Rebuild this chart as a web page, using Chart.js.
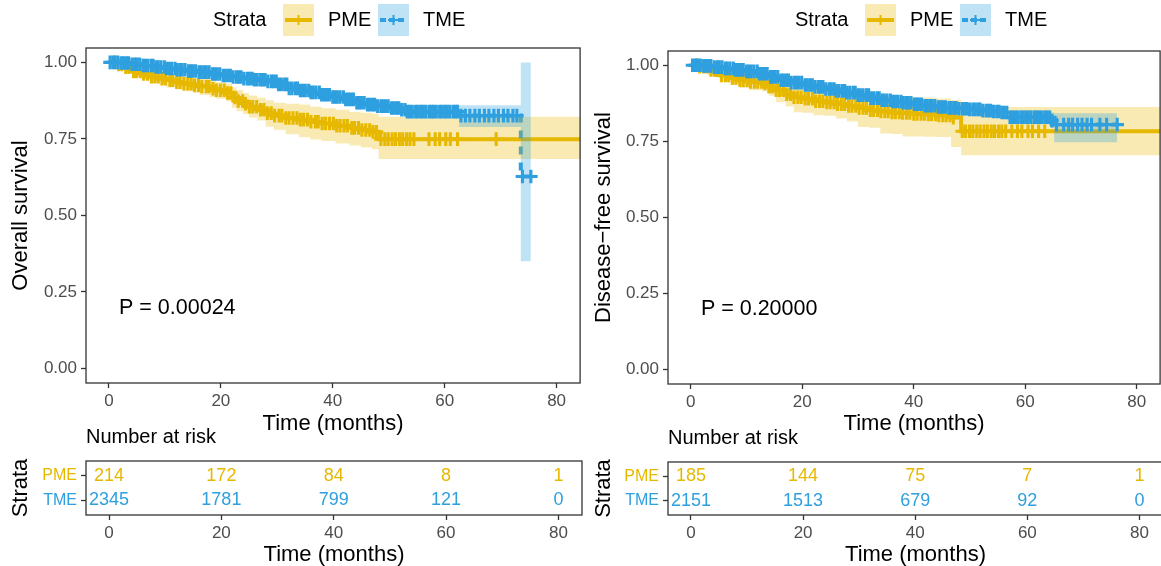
<!DOCTYPE html>
<html>
<head>
<meta charset="utf-8">
<script src="https://cdn.jsdelivr.net/npm/chart.js@4.4.1/dist/chart.umd.min.js"></script>
<style>
  html, body { margin: 0; padding: 0; background: #fff; overflow: hidden; width: 1161px; height: 566px; }
  canvas { position: absolute; }
</style>
</head>
<body>
<canvas id="mainL" width="590" height="440" style="left:0;top:0"></canvas>
<canvas id="mainR" width="590" height="440" style="left:580px;top:0"></canvas>
<canvas id="riskL" width="590" height="150" style="left:0;top:420px"></canvas>
<canvas id="riskR" width="590" height="150" style="left:580px;top:420px"></canvas>
<script>
// ---------- shared ----------
const strata = ['PME', 'TME'];
const xTicks = [0, 20, 40, 60, 80];
const yTicks = [0, 0.25, 0.5, 0.75, 1];
const riskTimes = [0, 20, 40, 60, 80];

// ---------- left: overall survival ----------
const osPmeTime  = [0, 1.5, 3, 4.3, 6, 7.3, 9, 10.3, 12, 13.2, 15, 16.2, 18, 19.2, 21, 22, 22.8, 24, 25, 26.5, 28, 29.5, 31.6, 34, 36, 38, 40.5, 43, 45, 47, 48.2, 86];
const osPmeSurv  = [1, 0.993, 0.984, 0.97, 0.962, 0.953, 0.947, 0.942, 0.935, 0.93, 0.925, 0.921, 0.914, 0.909, 0.9, 0.885, 0.874, 0.865, 0.855, 0.845, 0.834, 0.826, 0.818, 0.813, 0.806, 0.8, 0.793, 0.786, 0.779, 0.773, 0.749, 0.749];
const osPmeUpper = [1, 1, 0.997, 0.985, 0.978, 0.97, 0.966, 0.962, 0.956, 0.951, 0.948, 0.945, 0.94, 0.935, 0.93, 0.918, 0.91, 0.9, 0.892, 0.884, 0.876, 0.868, 0.865, 0.862, 0.855, 0.85, 0.845, 0.838, 0.835, 0.832, 0.822, 0.822];
const osPmeLower = [1, 0.983, 0.968, 0.951, 0.943, 0.933, 0.925, 0.918, 0.911, 0.906, 0.9, 0.893, 0.886, 0.881, 0.872, 0.852, 0.84, 0.831, 0.82, 0.81, 0.79, 0.78, 0.765, 0.755, 0.748, 0.743, 0.735, 0.728, 0.722, 0.716, 0.684, 0.684];
const osPmeCensor = [1.0, 1.7, 2.3, 3.0, 3.6, 4.4, 4.9, 5.6, 6.2, 6.9, 7.6, 8.2, 8.8, 9.5, 10.1, 10.9, 11.4, 12.1, 12.7, 13.4, 14.1, 14.7, 15.3, 16.0, 16.6, 17.4, 17.9, 18.6, 19.2, 19.9, 20.6, 21.2, 21.8, 22.5, 23.1, 23.9, 24.4, 25.1, 25.7, 26.4, 27.1, 27.7, 28.3, 29.0, 29.6, 30.4, 30.9, 31.6, 32.2, 32.9, 33.6, 34.2, 34.8, 35.5, 36.1, 36.9, 37.4, 38.1, 38.7, 39.4, 40.1, 40.7, 41.3, 42.0, 42.6, 43.4, 43.9, 44.6, 45.2, 45.9, 46.6, 47.2, 47.8, 48.6, 49.3, 49.9, 50.6, 51.2, 51.9, 52.5, 53.2, 53.8, 54.5, 57.2, 58.3, 59.1, 60.2, 61.0, 62.3, 69.2];

const osTmeTime  = [0, 2, 4, 6, 8, 10, 12, 14, 16, 18, 20, 22, 24, 26, 28, 30, 32, 34, 36, 38, 40, 42, 44, 46, 48, 50, 52, 53.2, 62.6, 73.6, 75.4];
const osTmeSurv  = [1, 0.998, 0.994, 0.99, 0.985, 0.98, 0.976, 0.972, 0.968, 0.962, 0.957, 0.952, 0.947, 0.943, 0.938, 0.928, 0.915, 0.908, 0.902, 0.894, 0.887, 0.879, 0.868, 0.862, 0.857, 0.851, 0.845, 0.839, 0.826, 0.627, 0.627];
const osTmeUpper = [1, 1, 0.997, 0.994, 0.99, 0.986, 0.982, 0.979, 0.975, 0.97, 0.966, 0.961, 0.957, 0.953, 0.949, 0.94, 0.928, 0.921, 0.916, 0.909, 0.902, 0.895, 0.885, 0.879, 0.875, 0.869, 0.864, 0.858, 0.86, 1, 1];
const osTmeLower = [1, 0.996, 0.991, 0.986, 0.98, 0.975, 0.97, 0.965, 0.961, 0.955, 0.948, 0.943, 0.937, 0.933, 0.927, 0.916, 0.902, 0.895, 0.888, 0.879, 0.872, 0.863, 0.851, 0.845, 0.839, 0.833, 0.826, 0.818, 0.789, 0.35, 0.35];
const osTmeCensor = [0.2, 0.7, 1.1, 1.6, 2.2, 2.6, 3.1, 3.5, 4.1, 4.6, 5.0, 5.5, 6.1, 6.4, 6.9, 7.5, 7.9, 8.4, 8.8, 9.3, 9.9, 10.3, 10.7, 11.2, 11.8, 12.2, 12.7, 13.1, 13.6, 14.2, 14.6, 15.0, 15.5, 16.1, 16.5, 17.0, 17.4, 17.9, 18.5, 18.9, 19.3, 19.8, 20.4, 20.8, 21.3, 21.7, 22.2, 22.8, 23.2, 23.6, 24.1, 24.7, 25.1, 25.6, 26.0, 26.5, 27.1, 27.5, 27.9, 28.4, 29.0, 29.4, 29.9, 30.3, 30.8, 31.4, 31.8, 32.2, 32.7, 33.3, 33.7, 34.2, 34.6, 35.1, 35.7, 36.1, 36.5, 37.0, 37.6, 38.0, 38.5, 38.9, 39.4, 40.0, 40.4, 40.8, 41.3, 41.9, 42.3, 42.8, 43.2, 43.7, 44.3, 44.7, 45.1, 45.6, 46.2, 46.6, 47.1, 47.5, 48.0, 48.6, 49.0, 49.4, 49.9, 50.5, 50.9, 51.4, 51.8, 52.3, 52.9, 53.3, 53.7, 54.2, 54.8, 55.2, 55.7, 56.1, 56.6, 57.2, 57.6, 58.0, 58.5, 59.1, 59.5, 60.0, 60.4, 60.9, 61.5, 61.9, 62.3, 62.9, 63.7, 64.5, 65.4, 66.2, 67.1, 67.9, 68.8, 69.6, 70.5, 71.3, 72.2, 72.9, 73.9, 75.4];

const osRiskPme = [214, 172, 84, 8, 1];
const osRiskTme = [2345, 1781, 799, 121, 0];
const osPval = 'P = 0.00024';

// ---------- right: disease-free survival ----------
const dfsPmeTime  = [0, 1.5, 3, 5.2, 7, 8.7, 10.5, 12.8, 14, 15.3, 17, 18.5, 20, 22, 24, 26, 28, 30, 32, 34, 36, 38, 40, 42, 44, 46.7, 48.5, 86];
const dfsPmeSurv  = [1, 0.995, 0.985, 0.967, 0.958, 0.951, 0.945, 0.94, 0.93, 0.918, 0.905, 0.895, 0.89, 0.882, 0.878, 0.872, 0.866, 0.86, 0.852, 0.848, 0.845, 0.843, 0.84, 0.838, 0.835, 0.828, 0.783, 0.783];
const dfsPmeUpper = [1, 1, 1, 0.99, 0.985, 0.98, 0.976, 0.972, 0.965, 0.956, 0.945, 0.937, 0.933, 0.926, 0.923, 0.918, 0.913, 0.908, 0.902, 0.899, 0.897, 0.896, 0.894, 0.893, 0.891, 0.886, 0.863, 0.863];
const dfsPmeLower = [1, 0.985, 0.968, 0.944, 0.935, 0.925, 0.918, 0.915, 0.9, 0.879, 0.865, 0.846, 0.844, 0.836, 0.834, 0.825, 0.815, 0.797, 0.795, 0.776, 0.774, 0.766, 0.766, 0.765, 0.764, 0.731, 0.704, 0.704];
const dfsPmeCensor = [1.0, 1.6, 2.3, 2.9, 3.6, 4.2, 4.9, 5.5, 6.2, 6.8, 7.5, 8.1, 8.8, 9.4, 10.1, 10.7, 11.4, 12.0, 12.7, 13.3, 14.0, 14.6, 15.3, 15.9, 16.6, 17.2, 17.9, 18.5, 19.2, 19.8, 20.5, 21.1, 21.8, 22.4, 23.1, 23.7, 24.4, 25.0, 25.7, 26.3, 27.0, 27.6, 28.3, 28.9, 29.6, 30.2, 30.9, 31.5, 32.2, 32.8, 33.5, 34.1, 34.8, 35.4, 36.1, 36.7, 37.4, 38.0, 38.7, 39.3, 40.0, 40.6, 41.3, 41.9, 42.6, 43.2, 43.9, 44.5, 45.2, 45.8, 46.5, 47.1, 48.7, 49.3, 50.0, 50.6, 51.3, 51.9, 52.6, 53.2, 53.9, 54.5, 55.2, 55.8, 56.5, 57.6, 58.6, 59.4, 60.5, 61.3, 62.4, 63.5];

const dfsTmeTime  = [0, 2, 4, 6, 8, 10, 12, 14, 16, 18, 20, 22, 24, 26, 28, 30, 32, 34, 36, 38, 40, 42, 44, 46, 48, 50, 52, 54, 55.6, 56.9, 64.5, 65.2, 76.5];
const dfsTmeSurv  = [1, 0.998, 0.994, 0.99, 0.985, 0.98, 0.972, 0.962, 0.951, 0.943, 0.935, 0.929, 0.922, 0.916, 0.91, 0.902, 0.892, 0.885, 0.881, 0.877, 0.872, 0.867, 0.863, 0.86, 0.857, 0.855, 0.851, 0.848, 0.845, 0.829, 0.818, 0.805, 0.805];
const dfsTmeUpper = [1, 1, 0.997, 0.994, 0.99, 0.986, 0.979, 0.97, 0.96, 0.952, 0.945, 0.94, 0.933, 0.928, 0.922, 0.915, 0.906, 0.899, 0.896, 0.892, 0.888, 0.884, 0.88, 0.877, 0.875, 0.873, 0.87, 0.868, 0.866, 0.852, 0.845, 0.842, 0.842];
const dfsTmeLower = [1, 0.996, 0.991, 0.986, 0.98, 0.974, 0.965, 0.954, 0.942, 0.934, 0.925, 0.918, 0.911, 0.904, 0.898, 0.889, 0.878, 0.871, 0.866, 0.862, 0.856, 0.85, 0.846, 0.843, 0.839, 0.837, 0.832, 0.828, 0.824, 0.806, 0.795, 0.747, 0.747];
const dfsTmeCensor = [0.3, 0.8, 1.2, 1.7, 2.3, 2.7, 3.2, 3.6, 4.2, 4.7, 5.1, 5.6, 6.2, 6.5, 7.0, 7.6, 8.0, 8.5, 8.9, 9.4, 10.0, 10.4, 10.8, 11.3, 11.9, 12.3, 12.8, 13.2, 13.7, 14.3, 14.7, 15.1, 15.6, 16.2, 16.6, 17.1, 17.5, 18.0, 18.6, 19.0, 19.4, 19.9, 20.5, 20.9, 21.4, 21.8, 22.3, 22.9, 23.3, 23.7, 24.2, 24.8, 25.2, 25.7, 26.1, 26.6, 27.2, 27.6, 28.0, 28.5, 29.1, 29.5, 30.0, 30.4, 30.9, 31.5, 31.9, 32.3, 32.8, 33.4, 33.8, 34.3, 34.7, 35.2, 35.8, 36.2, 36.6, 37.1, 37.7, 38.1, 38.6, 39.0, 39.5, 40.1, 40.5, 40.9, 41.4, 42.0, 42.4, 42.9, 43.3, 43.8, 44.4, 44.8, 45.2, 45.7, 46.3, 46.7, 47.2, 47.6, 48.1, 48.7, 49.1, 49.5, 50.0, 50.6, 51.0, 51.5, 51.9, 52.4, 53.0, 53.4, 53.8, 54.3, 54.9, 55.3, 55.8, 56.2, 56.7, 57.3, 57.7, 58.1, 58.6, 59.2, 59.6, 60.1, 60.5, 61.0, 61.6, 62.0, 62.4, 62.9, 63.5, 63.9, 64.4, 64.8, 65.6, 66.9, 67.8, 68.5, 69.4, 70.2, 71.1, 71.9, 73.4, 74.6, 76.5];

const dfsRiskPme = [185, 144, 75, 7, 1];
const dfsRiskTme = [2151, 1513, 679, 92, 0];
const dfsPval = 'P = 0.20000';

// ---------- styling ----------
const GOLD = '#E7B800', BLUE = '#2E9FDF';
const GOLD_FILL = 'rgba(231,184,0,0.3)', BLUE_FILL = 'rgba(46,159,223,0.3)';
const FONT = "'Liberation Sans', Arial, Helvetica, sans-serif";
const FRAME = '#333333';
Chart.defaults.font.family = FONT;

const pts = (ts, vs) => ts.map((t, i) => ({ x: t, y: vs[i] }));
function survAt(ts, vs, t) {
  let v = vs[0];
  for (let i = 0; i < ts.length; i++) if (ts[i] <= t) v = vs[i];
  return v;
}

const tickGrid = { drawOnChartArea: false, drawTicks: true, tickLength: 5, tickColor: FRAME, tickWidth: 1.3 };
const tickFont = { family: FONT, size: 17 };
const titleFont = { family: FONT, size: 22 };

// frame, legend and p-value
const decor = {
  id: 'decor',
  afterDatasetsDraw(chart, args, opts) {
    const { ctx, chartArea: a } = chart;
    ctx.save();
    ctx.strokeStyle = FRAME;
    ctx.lineWidth = 1.3;
    ctx.strokeRect(a.left, a.top, a.right - a.left, a.bottom - a.top);
    ctx.fillStyle = '#000';
    ctx.textBaseline = 'middle';
    ctx.textAlign = 'left';
    if (opts.pval) {
      ctx.font = '21.5px ' + FONT;
      ctx.fillText(opts.pval, chart.scales.x.getPixelForValue(1.8), chart.scales.y.getPixelForValue(0.197));
    }
    if (opts.legendX !== undefined) {
      ctx.font = '20px ' + FONT;
      const x0 = opts.legendX;
      ctx.fillText('Strata', x0, 20);
      const keys = [
        { x: x0 + 70, col: GOLD, fill: GOLD_FILL, dash: [] },
        { x: x0 + 165, col: BLUE, fill: BLUE_FILL, dash: [6, 3] }
      ];
      keys.forEach((k, i) => {
        ctx.fillStyle = k.fill;
        ctx.fillRect(k.x, 4, 31, 32);
        ctx.strokeStyle = k.col;
        ctx.lineWidth = 4;
        ctx.setLineDash(k.dash);
        ctx.beginPath(); ctx.moveTo(k.x + 2, 20); ctx.lineTo(k.x + 29, 20); ctx.stroke();
        ctx.setLineDash([]);
        ctx.lineWidth = 2;
        ctx.beginPath();
        ctx.moveTo(k.x + 15.5, 15); ctx.lineTo(k.x + 15.5, 25);
        ctx.moveTo(k.x + 10, 20); ctx.lineTo(k.x + 21, 20);
        ctx.stroke();
        ctx.fillStyle = '#000';
        ctx.fillText(strata[i], k.x + 45, 20);
      });
    }
    ctx.restore();
  }
};

// numbers of the risk table, placed on the dataset points
const riskText = {
  id: 'riskText',
  afterDatasetsDraw(chart) {
    const { ctx } = chart;
    ctx.save();
    ctx.font = '18px ' + FONT;
    ctx.textAlign = 'center';
    ctx.textBaseline = 'middle';
    chart.data.datasets.forEach((ds, i) => {
      ctx.fillStyle = ds.textColor;
      chart.getDatasetMeta(i).data.forEach((p, j) => ctx.fillText(String(ds.counts[j]), p.x, p.y));
    });
    ctx.restore();
  }
};

function curveSets(time, surv, upper, lower, censor, col, fill, dash, o) {
  return [
    { data: pts(time, surv), borderColor: col, borderWidth: 4, borderDash: dash, stepped: true, pointRadius: 0, fill: false, order: 30 - o, clip: 0 },
    { data: pts(time, upper), borderWidth: 0, backgroundColor: fill, stepped: true, pointRadius: 0, fill: '+1', order: 20 - o, clip: 0 },
    { data: pts(time, lower), borderWidth: 0, stepped: true, pointRadius: 0, fill: false, order: 20 - o, clip: 0 },
    { data: censor.map(t => ({ x: t, y: survAt(time, surv, t) })), showLine: false, pointStyle: 'cross', pointRadius: 6.8,
      pointBorderWidth: 3.1, pointBorderColor: col, borderColor: col, order: 10 - o, clip: 0 }
  ];
}

function mainChart(id, d) {
  return new Chart(document.getElementById(id), {
    type: 'line',
    data: {
      datasets: [
        ...curveSets(d.pme[0], d.pme[1], d.pme[2], d.pme[3], d.pme[4], GOLD, GOLD_FILL, [], 0),
        ...curveSets(d.tme[0], d.tme[1], d.tme[2], d.tme[3], d.tme[4], BLUE, BLUE_FILL, [8, 8], 1)
      ]
    },
    options: {
      responsive: false, animation: false, events: [],
      layout: { padding: { top: d.top, right: d.right, left: 0, bottom: 0 } },
      plugins: {
        legend: { display: false }, tooltip: { enabled: false },
        decor: { pval: d.pval, legendX: d.legendX }
      },
      scales: {
        x: {
          type: 'linear', min: -4.1, max: 84.2,
          afterBuildTicks: s => { s.ticks = xTicks.map(v => ({ value: v })); },
          afterFit: s => { s.height = d.xH; },
          grid: tickGrid, border: { display: false },
          ticks: { color: '#4D4D4D', font: tickFont, padding: 3, autoSkip: false, maxRotation: 0 },
          title: { display: true, text: 'Time (months)', color: '#000', font: titleFont, padding: { top: 0, bottom: 3 } }
        },
        y: {
          type: 'linear', min: -0.048, max: 1.047,
          afterBuildTicks: s => { s.ticks = yTicks.map(v => ({ value: v })); },
          afterFit: s => { s.width = d.yW; },
          grid: tickGrid, border: { display: false },
          ticks: { color: '#4D4D4D', font: tickFont, padding: 4, callback: v => Number(v).toFixed(2) },
          title: { display: true, text: d.yTitle, color: '#000', font: titleFont, padding: { top: d.yTitlePad, bottom: 0 } }
        }
      }
    },
    plugins: [decor]
  });
}

function riskChart(id, d) {
  return new Chart(document.getElementById(id), {
    type: 'line',
    data: {
      datasets: [d.pme, d.tme].map((counts, r) => ({
        data: riskTimes.map(t => ({ x: t, y: r + 1 })),
        counts: counts, textColor: [GOLD, BLUE][r],
        showLine: false, pointRadius: 0
      }))
    },
    options: {
      responsive: false, animation: false, events: [],
      layout: { padding: { top: 0, right: d.right, left: 0, bottom: 0 } },
      plugins: {
        legend: { display: false }, tooltip: { enabled: false },
        title: { display: true, text: 'Number at risk', align: 'start', fullSize: false, color: '#000',
                 font: { family: FONT, size: 20, weight: 'normal' }, padding: { top: d.titleTop, bottom: d.titleBottom } },
        decor: {}
      },
      scales: {
        x: {
          type: 'linear', min: -4.1, max: 84.2,
          afterBuildTicks: s => { s.ticks = xTicks.map(v => ({ value: v })); },
          afterFit: s => { s.height = d.xH; },
          grid: tickGrid, border: { display: false },
          ticks: { color: '#4D4D4D', font: tickFont, padding: 3, autoSkip: false, maxRotation: 0 },
          title: { display: true, text: 'Time (months)', color: '#000', font: titleFont, padding: { top: 0, bottom: 2 } }
        },
        y: {
          type: 'linear', min: 0.4, max: 2.6, reverse: true,
          afterBuildTicks: s => { s.ticks = [1, 2].map(v => ({ value: v })); },
          afterFit: s => { s.width = d.yW; },
          grid: tickGrid, border: { display: false },
          ticks: { font: { family: FONT, size: 16 }, padding: 4, callback: v => strata[v - 1],
                   color: c => (c.index === 0 ? GOLD : BLUE) },
          title: { display: true, text: 'Strata', color: '#000', font: titleFont, padding: { top: d.yTitlePad, bottom: 0 } }
        }
      }
    },
    plugins: [decor, riskText]
  });
}

mainChart('mainL', {
  pme: [osPmeTime, osPmeSurv, osPmeUpper, osPmeLower, osPmeCensor],
  tme: [osTmeTime, osTmeSurv, osTmeUpper, osTmeLower, osTmeCensor],
  pval: osPval, legendX: 213, top: 48, right: 8, xH: 57, yW: 86,
  yTitle: 'Overall survival', yTitlePad: 8
});
mainChart('mainR', {
  pme: [dfsPmeTime, dfsPmeSurv, dfsPmeUpper, dfsPmeLower, dfsPmeCensor],
  tme: [dfsTmeTime, dfsTmeSurv, dfsTmeUpper, dfsTmeLower, dfsTmeCensor],
  pval: dfsPval, legendX: 215, top: 51, right: 7, xH: 56, yW: 88,
  yTitle: 'Disease\u2212free survival', yTitlePad: 11
});
riskChart('riskL', { pme: osRiskPme, tme: osRiskTme, right: 8, xH: 55, yW: 86, titleTop: 5, titleBottom: 12, yTitlePad: 8 });
riskChart('riskR', { pme: dfsRiskPme, tme: dfsRiskTme, right: 7, xH: 55, yW: 88, titleTop: 6, titleBottom: 12, yTitlePad: 11 });
</script>
</body>
</html>
